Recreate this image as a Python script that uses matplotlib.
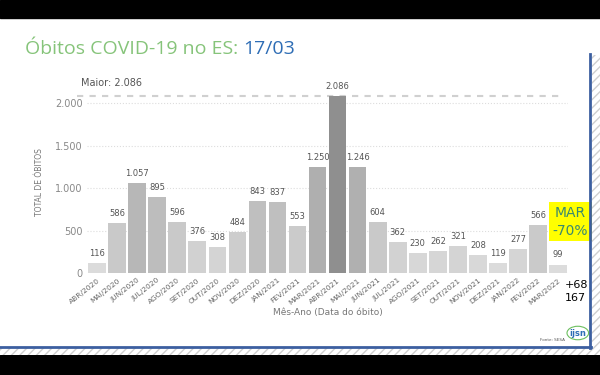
import numpy as np
import matplotlib.pyplot as plt
from matplotlib.patches import Rectangle, Circle

meses = ["ABR/2020", "MAI/2020", "JUN/2020", "JUL/2020", "AGO/2020", "SET/2020",
         "OUT/2020", "NOV/2020", "DEZ/2020", "JAN/2021", "FEV/2021", "MAR/2021",
         "ABR/2021", "MAI/2021", "JUN/2021", "JUL/2021", "AGO/2021", "SET/2021",
         "OUT/2021", "NOV/2021", "DEZ/2021", "JAN/2022", "FEV/2022", "MAR/2022"]
obitos = [116, 586, 1057, 895, 596, 376, 308, 484, 843, 837, 553, 1250,
          2086, 1246, 604, 362, 230, 262, 321, 208, 119, 277, 566, 99]
y_ticks = [0, 500, 1000, 1500, 2000]


def fmt(v):
    return f"{v:,}".replace(",", ".")


fig = plt.figure(figsize=(6, 3.75), dpi=100)
fig.patch.set_facecolor("white")

# faixas pretas e moldura do slide
fig.add_artist(Rectangle((0, 0.952), 1, 0.048, transform=fig.transFigure, color="black"))
fig.add_artist(Rectangle((0, 0), 1, 0.053, transform=fig.transFigure, color="black"))
fig.add_artist(Rectangle((0.987, 0.053), 0.013, 0.80, transform=fig.transFigure,
                         facecolor="white", edgecolor="#cfcfcf", hatch="////", lw=0))
fig.add_artist(Rectangle((0, 0.053), 0.987, 0.018, transform=fig.transFigure,
                         facecolor="white", edgecolor="#cfcfcf", hatch="////", lw=0))
fig.add_artist(plt.Line2D([0.983, 0.983], [0.073, 0.855], transform=fig.transFigure,
                          color="#3c5fa0", lw=2))
fig.add_artist(plt.Line2D([0, 0.985], [0.074, 0.074], transform=fig.transFigure,
                          color="#3c5fa0", lw=2))

# título
t1 = fig.text(0.042, 0.868, "Óbitos COVID-19 no ES: ", fontsize=14, color="#86c47a",
              family="Open Sans", va="center")
fig.canvas.draw()
bb = t1.get_window_extent().transformed(fig.transFigure.inverted())
fig.text(bb.x1, 0.868, "17/03", fontsize=14, color="#2e6db5", family="Open Sans",
         va="center")

ax = fig.add_axes([0.145, 0.272, 0.802, 0.4873])
x = np.arange(len(meses))
vals = np.array(obitos)
frac = vals / vals.max()
cores = [str((224 - 81 * f) / 255) for f in frac]
ax.bar(x, vals, width=0.88, color=cores, zorder=2)

for xi, v in zip(x, vals):
    ax.text(xi, v + 60, fmt(v), ha="center", va="bottom", fontsize=6, color="#555555")

ax.axhline(max(obitos), color="#d0d0d0", ls=(0, (3, 3)), lw=1.5, xmin=-0.02, xmax=0.98,
           zorder=1, clip_on=False)
ax.text(-0.8, max(obitos) + 90, "Maior: " + fmt(max(obitos)), fontsize=7, color="#555555",
        va="bottom")

ax.set_xlim(-0.5, len(meses) - 0.5)
ax.set_ylim(0, 2150)
ax.set_yticks(y_ticks)
ax.set_yticklabels([fmt(t) for t in y_ticks], fontsize=7, color="#888888")
ax.yaxis.grid(True, ls=":", color="#dddddd", lw=0.8)
ax.set_axisbelow(True)
ax.set_xticks(x)
ax.set_xticklabels(meses, rotation=38, ha="right", fontsize=5.4, color="#666666",
                   rotation_mode="anchor")
ax.tick_params(length=0, pad=3)
for s in ax.spines.values():
    s.set_visible(False)
ax.set_ylabel("TOTAL DE ÓBITOS", fontsize=5.5, color="#777777", labelpad=8)
ax.set_xlabel("Mês-Ano (Data do óbito)", fontsize=6.5, color="#777777", labelpad=2)

# destaque de março
fig.add_artist(Rectangle((0.915, 0.358), 0.072, 0.104, transform=fig.transFigure,
                         color="#ffff00", lw=0))
fig.text(0.951, 0.432, "MAR", fontsize=10, color="#3b8a6e", ha="center", va="center")
fig.text(0.951, 0.385, "-70%", fontsize=10, color="#3b8a6e", ha="center", va="center")
fig.text(0.942, 0.240, "+68", fontsize=8, color="black", ha="left", va="center")
fig.text(0.942, 0.205, "167", fontsize=8, color="black", ha="left", va="center")

fig.text(0.90, 0.093, "Fonte: SESA", fontsize=3, color="#555555", ha="left", va="center")
fig.add_artist(Circle((0.963, 0.112), 0.018, transform=fig.transFigure,
                      facecolor="white", edgecolor="#6cbf5e", lw=0.8))
fig.text(0.963, 0.112, "ijsn", fontsize=6, color="#2e6db5", ha="center", va="center",
         weight="bold")

fig.savefig("out.png", dpi=100)
